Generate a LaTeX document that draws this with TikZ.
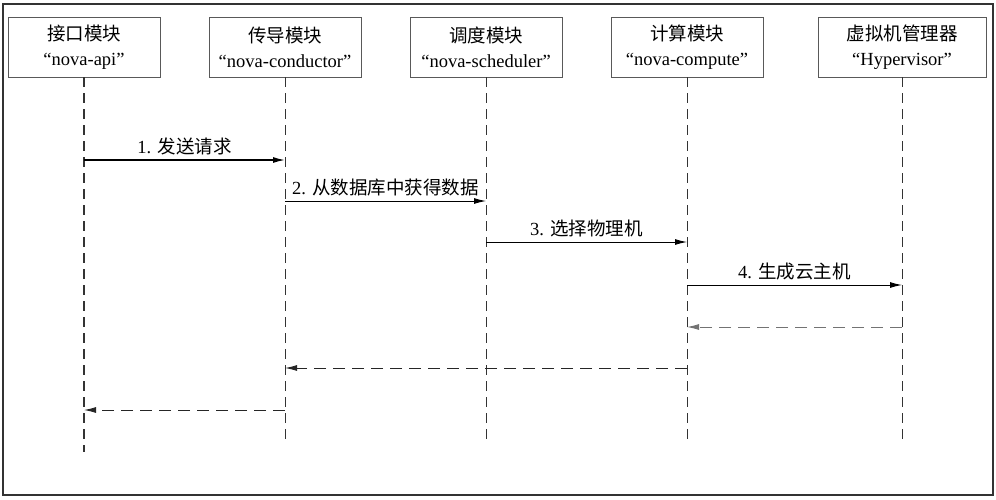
\documentclass[tikz,border=0pt]{standalone}
\usepackage{fontspec}
\setmainfont{Liberation Serif}
\newfontfamily\cjk{Noto Sans CJK SC}
\usetikzlibrary{arrows.meta}
\begin{document}
\begin{tikzpicture}[x=1pt,y=-1pt,
  frame/.style={draw=black!80,line width=1.2pt},
  box/.style={draw=black!65,line width=0.9pt,minimum height=60pt,align=center,inner sep=0pt,font=\fontsize{18.5}{25}\selectfont},
  life/.style={draw=black!80,line width=0.9pt,dash pattern=on 10pt off 6pt},
  msg/.style={draw=black,line width=0.9pt,-{Latex[length=12pt,width=6pt]}},
  ret/.style={draw=black!85,line width=0.9pt,dash pattern=on 12pt off 7pt,-{Latex[length=12pt,width=6pt]}},
  lbl/.style={font=\fontsize{18.5}{20}\selectfont,inner sep=0pt,anchor=base,yshift=7pt}]
\useasboundingbox (0,0) rectangle (996,499);
\draw[frame] (3,4) rectangle (993,495);
\node[box,minimum width=152pt] (b1) at (84,47) {{\cjk 接口模块}\\“nova-api”};
\node[box,minimum width=152pt] (b2) at (285,47) {{\cjk 传导模块}\\“nova-conductor”};
\node[box,minimum width=152pt] (b3) at (486,47) {{\cjk 调度模块}\\“nova-scheduler”};
\node[box,minimum width=152pt] (b4) at (687,47) {{\cjk 计算模块}\\“nova-compute”};
\node[box,minimum width=168pt] (b5) at (902,47) {{\cjk 虚拟机管理器}\\“Hypervisor”};
\coordinate (e1) at (84,452);
\coordinate (e2) at (285,443);
\coordinate (e3) at (486,443);
\coordinate (e4) at (687,443);
\coordinate (e5) at (902,443);
\draw[life,line width=1.2pt] (b1.south) -- (e1);
\draw[life] (b2.south) -- (e2);
\draw[life] (b3.south) -- (e3);
\draw[life] (b4.south) -- (e4);
\draw[life] (b5.south) -- (e5);
% messages
\coordinate (m1s) at (84,160);  \coordinate (m1e) at (285,160);
\coordinate (m2s) at (285,201); \coordinate (m2e) at (486,201);
\coordinate (m3s) at (486,242); \coordinate (m3e) at (687,242);
\coordinate (m4s) at (687,285); \coordinate (m4e) at (902,285);
\draw[msg,line width=1.4pt] (m1s) -- node[lbl] {1. {\cjk 发送请求}} (m1e);
\draw[msg] (m2s) -- node[lbl] {2. {\cjk 从数据库中获得数据}} (m2e);
\draw[msg] (m3s) -- node[lbl] {3. {\cjk 选择物理机}} (m3e);
\draw[msg] (m4s) -- node[lbl] {4. {\cjk 生成云主机}} (m4e);
% returns
\coordinate (r1s) at (902,327); \coordinate (r1e) at (687,327);
\coordinate (r2s) at (687,368); \coordinate (r2e) at (285,368);
\coordinate (r3s) at (285,410); \coordinate (r3e) at (84,410);
\draw[ret,draw=black!55] (r1s) -- (r1e);
\draw[ret] (r2s) -- (r2e);
\draw[ret] (r3s) -- (r3e);
\end{tikzpicture}
\end{document}
